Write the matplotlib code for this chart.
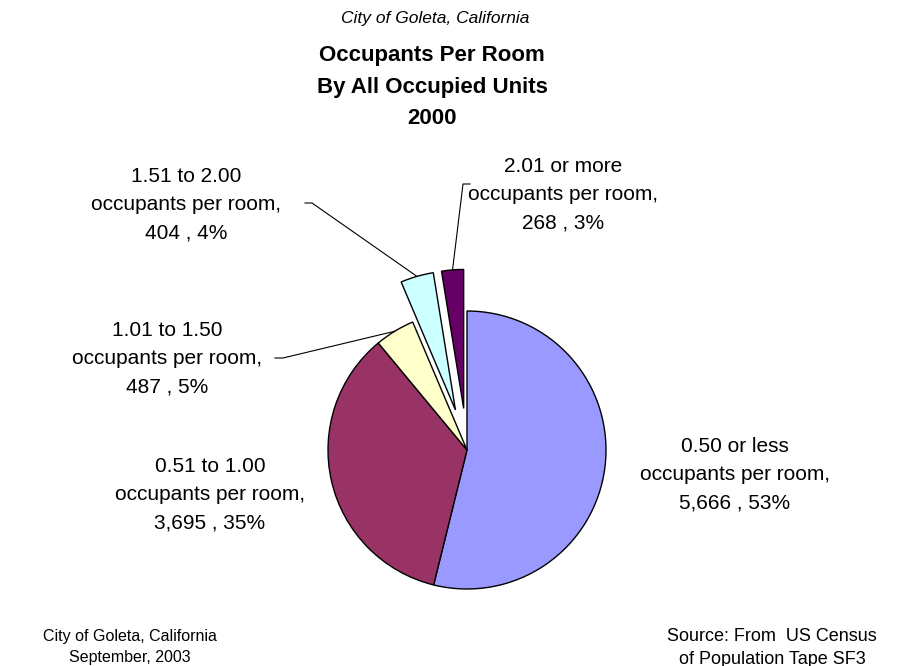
import numpy as np
import matplotlib
matplotlib.use("Agg")
from matplotlib import pyplot

pyplot.rcParams["font.family"] = ["Liberation Sans", "DejaVu Sans"]

categories = [
    "0.50 or less",
    "0.51 to 1.00",
    "1.01 to 1.50",
    "1.51 to 2.00",
    "2.01 or more",
]
units = [5666, 3695, 487, 404, 268]
percents = [53, 35, 5, 4, 3]
explode_frac = [0, 0, 0, 0.3, 0.3]
colours = ["#9999FF", "#993366", "#FFFFCC", "#CCFFFF", "#660066"]

W, H = 904, 666
radius = 139

figure = pyplot.figure(figsize=(W / 100, H / 100), dpi=100)
ax = figure.add_axes([0, 0, 1, 1])

# pie explode is in data units here, so scale by the radius
wedges, _ = ax.pie(
    units,
    colors=colours,
    explode=[e * radius for e in explode_frac],
    startangle=90,
    counterclock=False,
    center=(467, H - 450),
    radius=radius,
    wedgeprops=dict(edgecolor="black", linewidth=1.0),
    frame=True,
)
ax.set_xlim(0, W)
ax.set_ylim(0, H)
ax.set_axis_off()

labels = [
    f"{c}\noccupants per room,\n{u:,} , {p}%"
    for c, u, p in zip(categories, units, percents)
]
label_pos = [(735, 475), (210, 495), (167, 359), (186, 205), (563, 195)]
# leader lines: (knee, end) in pixel coords, None for no line
leaders = [None, None, ((283, 358), (275, 358)), ((312, 203), (305, 203)),
           ((463, 184), (470, 184))]

for wedge, text, (lx, ly), lead in zip(wedges, labels, label_pos, leaders):
    ax.text(lx, H - ly, text, ha="center", va="center", fontsize=15,
            linespacing=1.6)
    if lead is None:
        continue
    mid = np.deg2rad((wedge.theta1 + wedge.theta2) / 2)
    cx, cy = wedge.center
    px = cx + wedge.r * np.cos(mid)
    py = cy + wedge.r * np.sin(mid)
    (kx, ky), (ex, ey) = lead
    ax.plot([px, kx, ex], [py, H - ky, H - ey], color="black", lw=0.8)

figure.text(435 / W, 1 - 18 / H, "City of Goleta, California", ha="center",
            va="center", fontsize=12.5, style="italic")
figure.text(432 / W, 1 - 87 / H,
            "Occupants Per Room\nBy All Occupied Units\n2000",
            ha="center", va="center", fontsize=16, fontweight="bold",
            linespacing=1.65)

figure.text(130 / W, 1 - 647 / H, "City of Goleta, California\nSeptember, 2003",
            ha="center", va="center", fontsize=11.5, linespacing=1.45)
figure.text(772 / W, 1 - 648 / H, "Source: From  US Census\nof Population Tape SF3",
            ha="center", va="center", fontsize=13, linespacing=1.4)

pyplot.savefig("out.png", dpi=100)
